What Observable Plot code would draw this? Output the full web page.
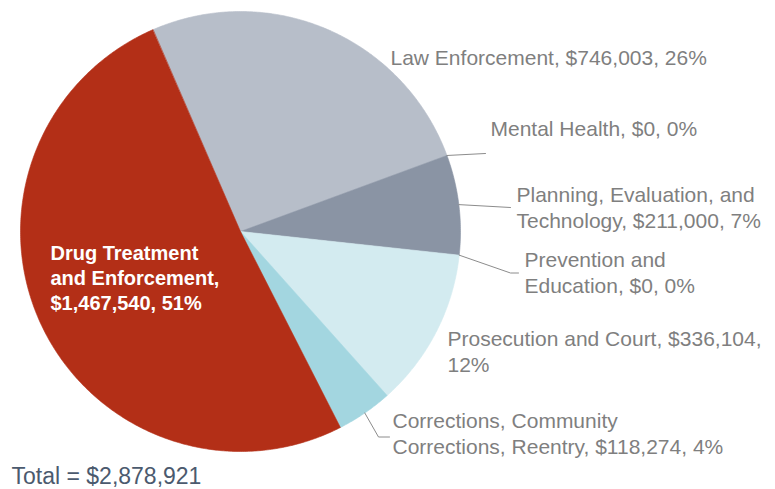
<!DOCTYPE html>
<html><head><meta charset="utf-8">
<script src="https://cdn.jsdelivr.net/npm/d3@7"></script>
<script src="https://cdn.jsdelivr.net/npm/@observablehq/plot@0.6"></script>
<style>
html,body{margin:0;padding:0;background:#fff;}
#chart{width:775px;height:489px;overflow:hidden;}
</style></head><body><div id="chart"></div>
<script>
// ---- data ----
const categories = [
  "Law Enforcement",
  "Mental Health",
  "Planning, Evaluation, and Technology",
  "Prevention and Education",
  "Prosecution and Court",
  "Corrections, Community Corrections, Reentry",
  "Drug Treatment and Enforcement"
];
const values = [746003, 0, 211000, 0, 336104, 118274, 1467540];

// ---- styles ----
const colors = ["#b7bec9", "#a9b0bc", "#8a94a4", "#c5e3ea", "#d3ebf0", "#a3d6e0", "#b32f17"];
const labelColor = "#7f7f7f";
const leaderColor = "#8c8c8c";
const totalColor = "#4b5a6e";
const FONT = "'Liberation Sans', Arial, Helvetica, sans-serif";

// ---- layout (pixels) ----
const W = 775, H = 489, CX = 240, CY = 231, R = 220;
const START = -23.5 * Math.PI / 180;
const u = px => (px - CX) / R, v = py => (CY - py) / R;
const labelLayout = [
  {x: 390, y: 64,  wrap: 40, leader: null},
  {x: 490, y: 135, wrap: 40, leader: [[485, 153]]},
  {x: 516, y: 227, wrap: 25, leader: [[510, 207]]},
  {x: 524, y: 292, wrap: 17, leader: [[510, 272.5], [518, 272.5]]},
  {x: 447, y: 371, wrap: 32, leader: null},
  {x: 392, y: 453, wrap: 34, leader: [[378, 436.5], [389, 436.5]]},
  {x: 50,  y: 309, wrap: 16, leader: null, inside: true}
];
const totalPos = {x: 11, y: 483};

// ---- derived ----
const total = d3.sum(values);
const fmt = d3.format(",");
function wrapText(s, w) {
  const words = s.split(" "); const lines = []; let cur = "";
  for (const wd of words) {
    if (!cur) cur = wd;
    else if ((cur + " " + wd).length <= w) cur += " " + wd;
    else { lines.push(cur); cur = wd; }
  }
  if (cur) lines.push(cur);
  return lines.join("\n");
}
const arcs = d3.pie().sort(null).value(d => d).startAngle(START).endAngle(START + 2 * Math.PI)(values);

const slicePts = [];
arcs.forEach((a, i) => {
  const span = a.endAngle - a.startAngle;
  if (span <= 0) return;
  const name = categories[i];
  slicePts.push({name, x: 0, y: 0});
  const n = Math.max(2, Math.ceil(span / (Math.PI / 360)));
  for (let k = 0; k <= n; k++) {
    const t = a.startAngle + span * k / n;
    slicePts.push({name, x: Math.sin(t), y: Math.cos(t)});
  }
});

const outerLabels = [], innerLabels = [], leaderPts = [];
arcs.forEach((a, i) => {
  const L = labelLayout[i];
  const pct = Math.round(values[i] / total * 100);
  const text = wrapText(`${categories[i]}, $${fmt(values[i])}, ${pct}%`, L.wrap);
  const d = {name: categories[i], x: u(L.x), y: v(L.y), text};
  (L.inside ? innerLabels : outerLabels).push(d);
  if (L.leader) {
    const m = (a.startAngle + a.endAngle) / 2;
    leaderPts.push({name: categories[i], x: Math.sin(m), y: Math.cos(m)});
    L.leader.forEach(([px, py]) => leaderPts.push({name: categories[i], x: u(px), y: v(py)}));
  }
});

const chart = Plot.plot({
  width: W, height: H,
  margin: 0,
  x: {domain: [-1, 1], range: [CX - R, CX + R], axis: null},
  y: {domain: [-1, 1], range: [CY + R, CY - R], axis: null},
  color: {domain: categories, range: colors},
  style: {fontFamily: FONT, background: "#fff", overflow: "visible"},
  marks: [
    Plot.line(slicePts, {x: "x", y: "y", z: "name", fill: "name", stroke: "name", strokeWidth: 0.6, curve: "linear-closed"}),
    Plot.line(leaderPts, {x: "x", y: "y", z: "name", stroke: leaderColor, strokeWidth: 1}),
    Plot.text(outerLabels, {x: "x", y: "y", text: "text", textAnchor: "start", lineAnchor: "bottom",
      lineHeight: 1.215, fontSize: 21, fill: labelColor}),
    Plot.text(innerLabels, {x: "x", y: "y", text: "text", textAnchor: "start", lineAnchor: "bottom",
      lineHeight: 1.25, fontSize: 20, fontWeight: "bold", fill: "#ffffff"}),
    Plot.text([{x: u(totalPos.x), y: v(totalPos.y), text: `Total = $${fmt(total)}`}],
      {x: "x", y: "y", text: "text", textAnchor: "start", lineAnchor: "bottom", fontSize: 23, fill: totalColor})
  ]
});
document.getElementById("chart").appendChild(chart);
</script>
</body></html>
